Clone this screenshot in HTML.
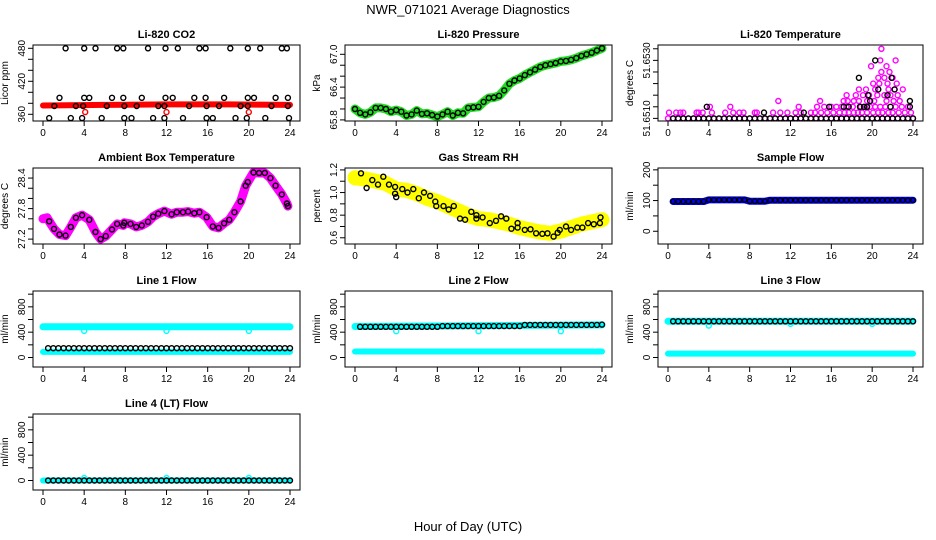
<!DOCTYPE html>
<html><head><meta charset="utf-8"><style>
html,body{margin:0;padding:0;background:#fff;}
svg{display:block;font-family:"Liberation Sans",Arial,sans-serif;}
</style></head><body>
<svg id="chart" width="936" height="540" viewBox="0 0 936 540" xmlns="http://www.w3.org/2000/svg">
<rect x="0" y="0" width="936" height="540" fill="#fff"/>
<text x="468" y="14" text-anchor="middle" font-size="13">NWR_071021  Average Diagnostics</text>
<text x="468" y="531" text-anchor="middle" font-size="13">Hour of Day (UTC)</text>
</svg>
<script>
// ---- data ----
const hourTicks = [0,4,8,12,16,20,24];
const halfHours = [0.5,1,1.5,2,2.5,3,3.5,4,4.5,5,5.5,6,6.5,7,7.5,8,8.5,9,9.5,10,10.5,11,11.5,12,12.5,13,13.5,14,14.5,15,15.5,16,16.5,17,17.5,18,18.5,19,19.5,20,20.5,21,21.5,22,22.5,23,23.5,24];

// CO2
const co2T = [2.2,4.0,5.1,7.2,7.8,10.2,11.9,13.1,15.2,15.8,18.2,19.9,21.1,23.2,23.7,
  1.6,4.0,4.5,6.7,7.8,9.6,11.9,12.6,14.7,15.8,17.6,19.9,20.5,22.6,23.8,
  1.1,3.2,3.9,6.2,7.9,9.1,11.2,11.8,14.2,15.9,17.1,19.2,19.9,22.2,23.8,
  0.6,2.7,3.8,5.7,7.9,8.6,10.7,11.8,13.6,15.9,16.5,18.7,19.8,21.6,23.9];
const co2V = [480,480,480,480,480,480,480,480,480,480,480,480,480,480,480,
  390,390,390,390,390,390,390,390,390,390,390,390,390,390,390,
  375,375,375,375,375,375,375,375,375,375,375,375,375,375,375,
  353,353,353,353,353,353,353,353,353,353,353,353,353,353,353];
const co2BandT = [0,6,12,18,24];
const co2BandV = [376,377,378,378,377];
const co2RedT = [4.1,12.0,20.0];
const co2RedV = [364,364,364];

// Pressure
const presT = [0,0.5,1,1.5,2,2.5,3,3.5,4,4.5,5,5.5,6,6.5,7,7.5,8,8.5,9,9.5,10,10.5,11,11.5,12,12.5,13,13.5,14,14.5,15,15.5,16,16.5,17,17.5,18,18.5,19,19.5,20,20.5,21,21.5,22,22.5,23,23.5,24];
const presV = [66.0,65.93,65.9,65.94,66.02,66.02,66.0,65.95,65.98,65.95,65.88,65.9,65.97,65.91,65.92,65.89,65.86,65.9,65.95,65.88,65.93,65.92,66.02,66.03,66.04,66.13,66.2,66.21,66.24,66.34,66.46,66.52,66.56,66.62,66.67,66.72,66.77,66.8,66.82,66.84,66.87,66.88,66.9,66.93,66.97,67.0,67.03,67.07,67.11];

// Li-820 temperature (levels)
const tempMagT = [0.1,0.8,1.2,1.5,2.8,3,3.4,4.3,5.6,6.4,7,7.4,8.5,8.7,10.3,11,11.7,12.5,13,14,14.4,15,15.6,16.2,16.8,17.3,17.7,18.2,18.6,19,19.5,20.1,20.6,21,21.6,22,22.6,23.2,23.8,
  4.1,6.1,12.8,14.6,15.3,16,16.5,17,17.5,18.1,18.9,19.2,19.8,20.3,20.8,21.3,22.3,22.9,23.5,
  10.8,14.9,17.2,17.6,18.2,18.7,19.5,20.2,21.4,22.1,22.7,
  17.5,18.4,19.1,19.7,20.5,21.2,21.8,22.5,
  18.7,19.4,20.3,21.6,22.2,23,
  20.1,20.7,21.5,22.4,
  20.6,21.2,22,
  20.9,21.7,
  19.9,21.4,
  20.8,22.3,
  20.9];
const tempMagV = [51.6512,51.6512,51.6512,51.6512,51.6512,51.6512,51.6512,51.6512,51.6512,51.6512,51.6512,51.6512,51.6512,51.6512,51.6512,51.6512,51.6512,51.6512,51.6512,51.6512,51.6512,51.6512,51.6512,51.6512,51.6512,51.6512,51.6512,51.6512,51.6512,51.6512,51.6512,51.6512,51.6512,51.6512,51.6512,51.6512,51.6512,51.6512,51.6512,
  51.6514,51.6514,51.6514,51.6514,51.6514,51.6514,51.6514,51.6514,51.6514,51.6514,51.6514,51.6514,51.6514,51.6514,51.6514,51.6514,51.6514,51.6514,51.6514,
  51.6516,51.6516,51.6516,51.6516,51.6516,51.6516,51.6516,51.6516,51.6516,51.6516,51.6516,
  51.6518,51.6518,51.6518,51.6518,51.6518,51.6518,51.6518,51.6518,
  51.6520,51.6520,51.6520,51.6520,51.6520,51.6520,
  51.6522,51.6522,51.6522,51.6522,
  51.6524,51.6524,51.6524,
  51.6526,51.6526,
  51.6528,51.6528,
  51.6530,51.6530,
  51.6534];
const tempBaseT = [0,0.5,1,1.5,2,2.5,3,3.5,4,4.5,5,5.5,6,6.5,7,7.5,8,8.5,9,9.5,10,10.5,11,11.5,12,12.5,13,13.5,14,14.5,15,15.5,16,16.5,17,17.5,18,18.5,19,19.5,20,20.5,21,21.5,22,22.5,23,23.5,24];
const tempBlkT = [9.4,13.3,3.8,15.8,17.2,17.7,18.8,19.2,19.5,21.8,23.7,19.8,23.7,19.6,21.5,20.6,22.2,18.7,21.9,20.3];
const tempBlkV = [51.6512,51.6512,51.6514,51.6514,51.6514,51.6514,51.6514,51.6514,51.6514,51.6514,51.6514,51.6516,51.6516,51.6518,51.6518,51.6520,51.6520,51.6524,51.6524,51.6530];

// Ambient box temperature
const ambT = [0.6,1.07,1.6,2.2,2.7,3.2,3.8,4.5,5.1,5.6,6.1,6.7,7.2,7.8,7.9,8.5,9.06,9.6,10.2,10.7,11.2,11.8,12.5,13,13.6,14.1,14.7,15.2,15.9,16.5,17.06,17.6,18.1,18.6,19.2,19.7,19.9,20.45,21,21.55,22.1,22.6,23.2,23.7,23.8];
const ambV = [27.55,27.4,27.29,27.27,27.44,27.62,27.67,27.58,27.34,27.2,27.26,27.39,27.5,27.47,27.52,27.5,27.44,27.47,27.54,27.64,27.7,27.75,27.69,27.73,27.73,27.74,27.71,27.73,27.63,27.45,27.42,27.51,27.58,27.73,27.94,28.25,28.32,28.51,28.5,28.5,28.4,28.25,28.08,27.9,27.85];
const ambBandT = [0,0.4];
const ambBandV = [27.6,27.62];

// Gas stream RH
const rhT = [0.58,1.13,1.68,2.23,2.75,3.3,3.9,3.9,4.0,4.6,5.1,5.66,6.2,6.7,7.3,7.8,7.9,8.6,9.1,9.6,10.2,10.7,11.3,11.8,11.8,12.4,13.1,13.7,14.2,14.7,15.2,15.8,15.8,16.5,17.05,17.6,18.2,18.7,19.3,19.7,19.9,20.5,21.0,21.6,22.1,22.65,23.2,23.8,23.85];
const rhV = [1.17,1.04,1.11,1.07,1.14,1.07,1.05,0.99,0.96,1.03,1.0,1.03,0.95,1.0,0.97,0.92,0.88,0.88,0.85,0.88,0.77,0.76,0.83,0.8,0.77,0.78,0.73,0.75,0.79,0.77,0.68,0.73,0.69,0.67,0.675,0.64,0.635,0.64,0.61,0.645,0.67,0.7,0.67,0.69,0.69,0.73,0.72,0.73,0.78];
const rhBandT = [0,1,2,3,4,5,6,7,8,9,10,11,12,13,14,15,16,17,18,19,20,21,22,23,24];
const rhBandV = [1.13,1.12,1.1,1.08,1.03,1.02,0.99,0.95,0.92,0.88,0.84,0.8,0.77,0.76,0.74,0.72,0.69,0.67,0.65,0.64,0.66,0.69,0.72,0.74,0.76];

// Sample flow
const sampleV = [97,97,97,97,97,97,97,102,102,102,102,102,102,102,102,98,98,98,98,101,101,101,101,101,101,101,101,101,101,101,101,101,101,101,101,101,101,101,101,101,101,101,101,101,101,101,101,101];

// Line flows
const line1BlkV = [147,147,147,147,147,147,147,147,147,147,147,147,147,147,147,147,147,147,147,147,147,147,147,147,147,147,147,147,147,147,147,147,147,147,147,147,147,147,147,147,147,147,147,147,147,147,147,147];
const line1CyanHi = [484,484];
const line1CyanLo = [89,89];
const line1DipT = [4,12,20];
const line1DipV = [420,420,420];

const line2BlkV = [485,485,485,485,485,485,485,485,485,485,485,485,485,485,485,485,495,495,495,495,495,495,495,495,495,495,495,495,495,495,495,495,515,515,515,515,515,515,515,515,515,515,515,515,515,515,515,520];
const line2CyanHi = [490,515];
const line2CyanLo = [95,95];
const line2DipT = [4,12,20];
const line2DipV = [415,415,415];

const line3BlkV = [571,571,571,571,571,571,571,571,571,571,571,571,571,571,571,571,571,571,571,571,571,571,571,571,571,571,571,571,571,571,571,571,571,571,571,571,571,571,571,571,571,571,571,571,571,571,571,571];
const line3CyanHi = [571,571];
const line3CyanLo = [62,62];
const line3DipT = [4,12,20];
const line3DipV = [504,530,530];

const line4BlkV = [0,0,0,0,0,0,0,0,0,0,0,0,0,0,0,0,0,0,0,0,0,0,0,0,0,0,0,0,0,0,0,0,0,0,0,0,0,0,0,0,0,0,0,0,0,0,0,0];
const line4Cyan = [0,0];
const line4DipT = [4,12,20];
const line4DipV = [40,40,40];

const bandEnds = [0,24];

// ---- drawing ----
const NS = "http://www.w3.org/2000/svg";
const svg = document.getElementById('chart');
const cols = [{a:43,b:290},{a:355,b:602},{a:668,b:913}];
const rowTop = [45,168,291,414];
const H = 76;

function mk(tag, attrs, parent){
  const e = document.createElementNS(NS, tag);
  for (const k in attrs) e.setAttribute(k, attrs[k]);
  (parent||svg).appendChild(e);
  return e;
}

function panel(key, col, row, title, ylab, dom, ticks, labels){
  const c = cols[col], top = rowTop[row], bot = top + H;
  const L = c.a - 10, R = c.b + 10;
  const g = mk('g', {});
  
  
  const sx = t => c.a + (t/24)*(c.b - c.a);
  const sy = v => bot - (v - dom[0])/(dom[1]-dom[0])*H;
  const t1 = mk('text', {x:(L+R)/2, y:top-7, 'text-anchor':'middle','font-size':11,'font-weight':'bold'}, g);
  t1.textContent = title;
  
  
  const yl = mk('text', {x:0,y:0,transform:`translate(${L-25},${(top+bot)/2}) rotate(-90)`,'text-anchor':'middle','font-size':10}, g);
  yl.textContent = ylab;
  
  
  const ya = mk('g', {}, g);
  
  
  ticks.forEach(v => {
    mk('line', {x1:L-5, x2:L, y1:sy(v), y2:sy(v), stroke:'#000','stroke-width':1}, ya);
  });
  mk('line', {x1:L, x2:L, y1:sy(ticks[0]), y2:sy(ticks[ticks.length-1]), stroke:'#000'}, ya);
  labels.forEach(lb => {
    const tx = mk('text', {x:0,y:0,transform:`translate(${L-8},${sy(lb.v)}) rotate(-90)`,'text-anchor':'middle','font-size':10}, ya);
    tx.textContent = lb.s;
  });
  const xa = mk('g', {}, g);
  
  
  mk('line', {x1:sx(0), x2:sx(24), y1:bot, y2:bot, stroke:'#000'}, xa);
  hourTicks.forEach(h => {
    mk('line', {x1:sx(h), x2:sx(h), y1:bot, y2:bot+5, stroke:'#000'}, xa);
    const tx = mk('text', {x:sx(h), y:bot+15, 'text-anchor':'middle','font-size':10}, xa);
    tx.textContent = h;
  });
  const pg = mk('g', {}, g);
  const cp = mk('clipPath', {id:'clip-'+key}, g);
  mk('rect', {x:L, y:top, width:R-L, height:H}, cp);
  pg.setAttribute('clip-path', `url(#clip-${key})`);
  
  
  const box = mk('rect', {x:L, y:top, width:R-L, height:H, fill:'none', stroke:'#000','stroke-width':1}, g);
  
  
  return {sx, sy, pg, g};
}

function band(p, ts, vs, color, w, name){
  const d = ts.map((t,i)=>(i?'L':'M')+p.sx(t).toFixed(1)+','+p.sy(vs[i]).toFixed(1)).join(' ');
  const e = mk('path', {d, fill:'none', stroke:color, 'stroke-width':w, 'stroke-linecap':'round','stroke-linejoin':'round'}, p.pg);
  
  
}
function pts(p, ts, vs, color, name, r, sw){
  const grp = mk('g', {}, p.pg);
  
  
  ts.forEach((t,i) => {
    const c = mk('circle', {cx:p.sx(t).toFixed(1), cy:p.sy(vs[i]).toFixed(1), r:r||2.5, fill:'none', stroke:color, 'stroke-width':sw||1.4}, grp);
    
    
  });
}
const lab = (arr) => arr.map(v => ({v, s:String(v)}));

// Panel 1: CO2
let p = panel('co2', 0, 0, 'Li-820 CO2', 'Licor ppm', [347.8,486], [360,380,400,420,440,460,480], lab([360,420,480]));
band(p, co2BandT, co2BandV, '#ff0000', 6, 'co2-red-band');
pts(p, co2RedT, co2RedV, '#ff0000', 'co2-red-points');
pts(p, co2T, co2V, '#000', 'co2-black-points');

// Panel 2: Pressure
p = panel('pressure', 1, 0, 'Li-820 Pressure', 'kPa', [65.78,67.17], [65.8,66.0,66.2,66.4,66.6,66.8,67.0], [{v:65.8,s:'65.8'},{v:66.4,s:'66.4'},{v:67.0,s:'67.0'}]);
band(p, presT, presV, '#22dd22', 9, 'pressure-green-band');
pts(p, presT, presV, '#000', 'pressure-black-points');

// Panel 3: Li-820 Temperature
p = panel('li820temp', 2, 0, 'Li-820 Temperature', 'degrees C', [51.65091,51.65353], [51.6510,51.6514,51.6518,51.6522,51.6526,51.6530,51.6534], [{v:51.6510,s:'51.6510'},{v:51.6530,s:'51.6530'}]);
pts(p, tempBaseT, tempBaseT.map(()=>51.6510), '#ff00ff', 'temp-magenta-base');
pts(p, tempMagT, tempMagV, '#ff00ff', 'temp-magenta-points');
pts(p, halfHours, halfHours.map(()=>51.6510), '#000', 'temp-black-base');
pts(p, tempBlkT, tempBlkV, '#000', 'temp-black-points');

// Panel 4: Ambient
p = panel('ambient', 0, 1, 'Ambient Box Temperature', 'degrees C', [27.104,28.598], [27.2,27.4,27.6,27.8,28.0,28.2,28.4], [{v:27.2,s:'27.2'},{v:27.8,s:'27.8'},{v:28.4,s:'28.4'}]);
band(p, ambBandT.concat(ambT), ambBandV.concat(ambV), '#ff00ff', 9, 'ambient-magenta-band');
pts(p, ambT, ambV, '#000', 'ambient-black-points');

// Panel 5: RH
p = panel('rh', 1, 1, 'Gas Stream RH', 'percent', [0.545,1.217], [0.6,0.7,0.8,0.9,1.0,1.1,1.2], [{v:0.6,s:'0.6'},{v:0.8,s:'0.8'},{v:1.0,s:'1.0'},{v:1.2,s:'1.2'}]);
band(p, rhBandT, rhBandV, '#ffff00', 15, 'rh-yellow-band');
pts(p, rhT, rhV, '#000', 'rh-black-points');

// Panel 6: Sample flow
p = panel('sampleflow', 2, 1, 'Sample Flow', 'ml/min', [-41.5,206], [0,50,100,150,200], lab([0,100,200]));
band(p, halfHours, sampleV, '#0000ff', 7, 'sample-blue-band');
pts(p, halfHours, sampleV, '#000', 'sample-black-points', 2.3);

const flowDom = [-150,1050], flowTicks = [0,200,400,600,800,1000], flowLabels = lab([0,400,800]);
// Line 1
p = panel('line1', 0, 2, 'Line 1 Flow', 'ml/min', flowDom, flowTicks, flowLabels);
band(p, bandEnds, line1CyanHi, '#00ffff', 7, 'line1-cyan-high-band');
band(p, bandEnds, line1CyanLo, '#00ffff', 6, 'line1-cyan-low-band');
pts(p, line1DipT, line1DipV, '#00ffff', 'line1-cyan-dips');
pts(p, halfHours, line1BlkV, '#000', 'line1-black-points');
// Line 2
p = panel('line2', 1, 2, 'Line 2 Flow', 'ml/min', flowDom, flowTicks, flowLabels);
band(p, bandEnds, line2CyanHi, '#00ffff', 7, 'line2-cyan-high-band');
band(p, bandEnds, line2CyanLo, '#00ffff', 6, 'line2-cyan-low-band');
pts(p, line2DipT, line2DipV, '#00ffff', 'line2-cyan-dips');
pts(p, halfHours, line2BlkV, '#000', 'line2-black-points');
// Line 3
p = panel('line3', 2, 2, 'Line 3 Flow', 'ml/min', flowDom, flowTicks, flowLabels);
band(p, bandEnds, line3CyanHi, '#00ffff', 7, 'line3-cyan-high-band');
band(p, bandEnds, line3CyanLo, '#00ffff', 6, 'line3-cyan-low-band');
pts(p, line3DipT, line3DipV, '#00ffff', 'line3-cyan-dips');
pts(p, halfHours, line3BlkV, '#000', 'line3-black-points');
// Line 4
p = panel('line4', 0, 3, 'Line 4 (LT) Flow', 'ml/min', flowDom, flowTicks, flowLabels);
band(p, bandEnds, line4Cyan, '#00ffff', 6, 'line4-cyan-band');
pts(p, line4DipT, line4DipV, '#00ffff', 'line4-cyan-bumps');
pts(p, halfHours, line4BlkV, '#000', 'line4-black-points');
</script>
</body></html>
